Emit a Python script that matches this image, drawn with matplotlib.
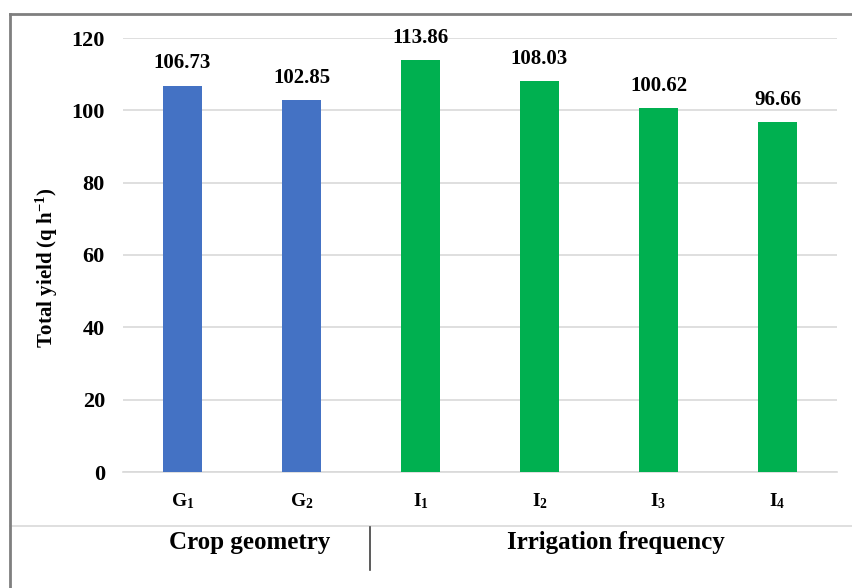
import matplotlib
matplotlib.use("Agg")
import matplotlib.pyplot as plt
from matplotlib.lines import Line2D

# treatment means of total yield
treatments = [r"G$_\mathbf{1}$", r"G$_\mathbf{2}$", r"I$_\mathbf{1}$",
              r"I$_\mathbf{2}$", r"I$_\mathbf{3}$", r"I$_\mathbf{4}$"]
yields = [106.73, 102.85, 113.86, 108.03, 100.62, 96.66]
groups = ["Crop geometry", "Irrigation frequency"]
group_sizes = [2, 4]
group_colors = ["#4472C4", "#00B050"]

plt.rcParams["font.family"] = ["Liberation Serif", "DejaVu Serif"]
plt.rcParams["font.weight"] = "bold"
plt.rcParams["mathtext.fontset"] = "custom"
plt.rcParams["mathtext.rm"] = "Liberation Serif:bold"
plt.rcParams["mathtext.bf"] = "Liberation Serif:bold"
plt.rcParams["mathtext.it"] = "Liberation Serif:bold"

W, H = 853, 588
fig = plt.figure(figsize=(W / 100, H / 100), dpi=100)

def fx(px):
    return px / W

def fy(py):
    return 1 - py / H

ax = fig.add_axes([fx(123), fy(472), fx(837) - fx(123), fy(38) - fy(472)])

colors = []
for c, n in zip(group_colors, group_sizes):
    colors += [c] * n

xs = list(range(len(yields)))
bars = ax.bar(xs, yields, width=0.32, color=colors, zorder=3)
for b, v in zip(bars, yields):
    ax.annotate(f"{v:.2f}", (b.get_x() + b.get_width() / 2, v),
                xytext=(0, 9), textcoords="offset points",
                ha="center", va="bottom", fontsize=15, fontweight="bold")

ax.set_xlim(-0.5, len(yields) - 0.5)
ax.set_ylim(0, 120)
ax.set_yticks(range(0, 121, 20))
ax.yaxis.grid(True, color="#d9d9d9", linewidth=1.2, zorder=0)
ax.set_axisbelow(True)
for s in ["top", "right", "left"]:
    ax.spines[s].set_visible(False)
ax.spines["bottom"].set_color("#d9d9d9")
ax.spines["bottom"].set_linewidth(1.2)
ax.tick_params(axis="both", length=0)
ax.tick_params(axis="y", labelsize=16, pad=13)
ax.set_xticks(xs)
ax.set_xticklabels(treatments, fontsize=14)
ax.tick_params(axis="x", pad=14)
for t in ax.get_yticklabels():
    t.set_fontweight("bold")

fig.text(fx(47), fy(268), r"Total yield (q h$^{\mathbf{-1}}$)", rotation=90,
         ha="center", va="center", fontsize=15, fontweight="bold")

# group labels under the category axis
fig.text(fx(250), fy(543), groups[0], ha="center", va="center",
         fontsize=18, fontweight="bold")
fig.text(fx(616), fy(543), groups[1], ha="center", va="center",
         fontsize=18, fontweight="bold")

# separators and outer frame
fig.add_artist(Line2D([fx(10), 1], [fy(526), fy(526)], color="#d9d9d9", lw=1.2))
fig.add_artist(Line2D([fx(370), fx(370)], [fy(527), fy(570)], color="#404040", lw=1.2))
fig.add_artist(Line2D([fx(10), 1], [fy(14), fy(14)], color="#7f7f7f", lw=2))
fig.add_artist(Line2D([fx(10), fx(10)], [0, fy(14)], color="#7f7f7f", lw=2))

fig.savefig("out.png", dpi=100)
